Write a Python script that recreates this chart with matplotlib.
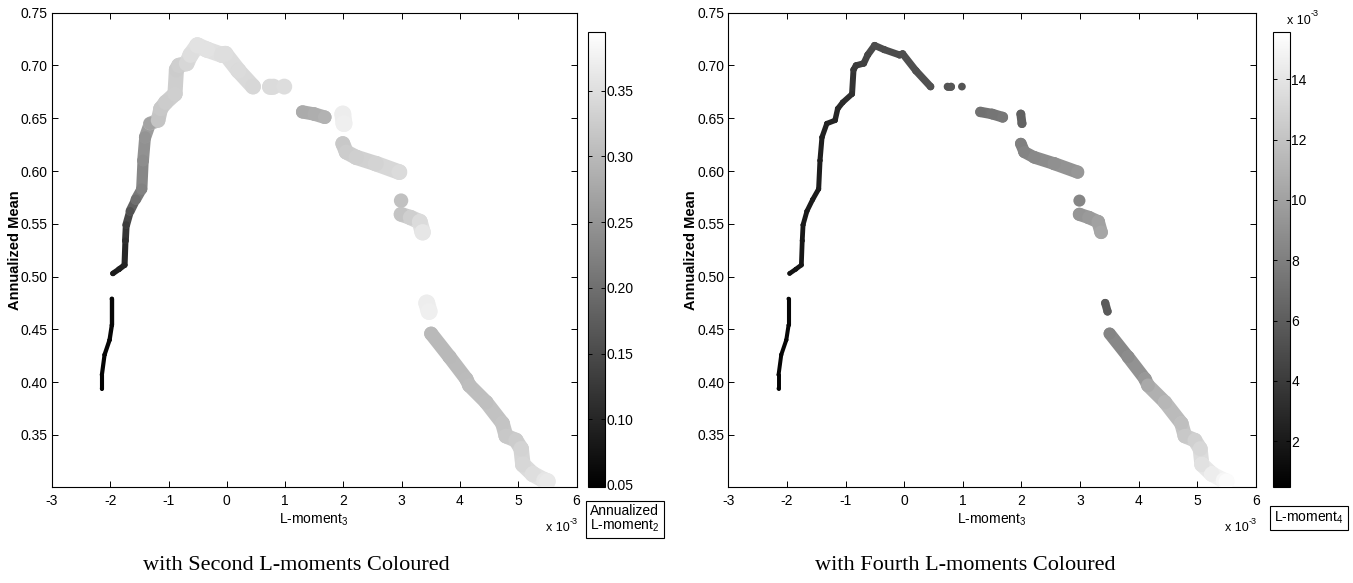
import numpy as np
import matplotlib
matplotlib.use('Agg')
import matplotlib.pyplot as plt
from matplotlib.collections import LineCollection
from matplotlib.colors import Normalize

plt.rcParams['font.family'] = ['Liberation Sans', 'DejaVu Sans']
plt.rcParams['mathtext.fontset'] = 'custom'
plt.rcParams['mathtext.rm'] = 'Liberation Sans'
plt.rcParams['mathtext.it'] = 'Liberation Sans:italic'
plt.rcParams['axes.unicode_minus'] = False

# each point: run id (points of one run form a continuous trace)
run = [0, 0, 0, 0, 0, 0,
       1, 1, 1, 1, 1, 1, 1, 1, 1, 1, 1, 1, 1, 1, 1, 1, 1, 1, 1, 1, 1, 1, 1, 1, 1,
       2, 2, 3, 4, 4, 4, 5, 5,
       6, 6, 6, 6, 6, 7, 8, 8, 8, 8, 9, 9,
       10, 10, 10, 10, 10, 10, 10, 10, 10, 10, 10, 10, 10]
# L-moment 3 (x 10^-3)
lm3 = [-2.144, -2.144, -2.098, -2.012, -1.973, -1.973,
       -1.955, -1.850, -1.755, -1.740, -1.726, -1.660, -1.562, -1.460, -1.437, -1.403,
       -1.320, -1.180, -1.135, -1.050, -0.890, -0.865, -0.823, -0.690, -0.623, -0.505,
       -0.340, -0.080, -0.026, 0.200, 0.450,
       0.74, 0.80, 0.985, 1.30, 1.50, 1.68, 1.99, 2.01,
       1.99, 2.05, 2.22, 2.56, 2.96, 2.99, 2.99, 3.15, 3.31, 3.36, 3.43, 3.47,
       3.506, 3.82, 4.11, 4.16, 4.45, 4.73, 4.79, 4.96, 5.05, 5.08, 5.25, 5.45, 5.50]
ann_mean = [0.394, 0.407, 0.426, 0.440, 0.454, 0.479,
            0.503, 0.507, 0.511, 0.534, 0.549, 0.562, 0.573, 0.583, 0.610, 0.632,
            0.645, 0.648, 0.659, 0.665, 0.673, 0.696, 0.700, 0.702, 0.710, 0.719,
            0.715, 0.710, 0.711, 0.695, 0.680,
            0.680, 0.680, 0.680, 0.656, 0.654, 0.651, 0.654, 0.645,
            0.626, 0.618, 0.613, 0.607, 0.599, 0.572, 0.559, 0.556, 0.552, 0.542, 0.475, 0.467,
            0.446, 0.424, 0.403, 0.397, 0.381, 0.361, 0.349, 0.345, 0.337, 0.322, 0.313, 0.307, 0.306]
# annualized L-moment 2
lm2 = [0.052, 0.053, 0.055, 0.057, 0.058, 0.060,
       0.085, 0.090, 0.095, 0.110, 0.130, 0.160, 0.200, 0.225, 0.240, 0.250,
       0.270, 0.315, 0.320, 0.325, 0.330, 0.325, 0.330, 0.340, 0.350, 0.355,
       0.355, 0.350, 0.350, 0.345, 0.340,
       0.345, 0.345, 0.348, 0.280, 0.285, 0.290, 0.370, 0.372,
       0.320, 0.325, 0.330, 0.335, 0.345, 0.310, 0.315, 0.330, 0.345, 0.360, 0.370, 0.372,
       0.300, 0.300, 0.302, 0.305, 0.308, 0.315, 0.320, 0.325, 0.335, 0.340, 0.350, 0.360, 0.365]
# L-moment 4 (x 10^-3)
lm4 = [0.7, 0.7, 0.8, 0.8, 0.9, 0.9,
       1.6, 1.7, 1.8, 1.9, 2.0, 2.0, 2.1, 2.2, 2.3, 2.4,
       2.6, 2.7, 2.9, 3.0, 3.3, 3.8, 4.0, 4.3, 4.6, 5.0,
       5.0, 5.0, 5.1, 5.2, 5.3,
       5.5, 5.6, 5.5, 7.2, 7.4, 7.6, 6.2, 6.3,
       8.0, 8.3, 8.6, 9.0, 9.4, 8.4, 9.3, 9.6, 10.0, 10.3, 5.8, 5.8,
       8.3, 8.8, 9.5, 10.5, 11.3, 11.8, 12.3, 12.8, 13.2, 13.8, 14.5, 15.0, 15.3]

xticks = [-3, -2, -1, 0, 1, 2, 3, 4, 5, 6]
yticks = [0.35, 0.40, 0.45, 0.50, 0.55, 0.60, 0.65, 0.70, 0.75]
lm2_ticks = [0.05, 0.10, 0.15, 0.20, 0.25, 0.30, 0.35]
lm4_ticks = [2, 4, 6, 8, 10, 12, 14]

W, H = 1353, 583
fig = plt.figure(figsize=(W / 100, H / 100), dpi=100)


def frac(x0, y0, x1, y1):
    # pixel box -> figure rect
    return [x0 / W, 1 - y1 / H, (x1 - x0) / W, (y1 - y0) / H]


def times_ten(px, py):
    fig.text(px / W, 1 - py / H, 'x 10', fontsize=9, va='center', ha='left')
    fig.text((px + 24) / W, 1 - (py - 7) / H, '-3', fontsize=6.5, va='center', ha='left')


def panel(ax_box, cb_box, cval, clim, cticks, cfmt, diam, cb_label, label_xy, title, title_x):
    x = np.array(lm3)
    y = np.array(ann_mean)
    c = np.array(cval)
    ax = fig.add_axes(frac(*ax_box))
    norm = Normalize(*clim)
    cmap = plt.get_cmap('gray')
    d_pt = diam(c) * 72 / 100

    segs, cols, lws = [], [], []
    for i in range(len(x) - 1):
        if run[i] != run[i + 1]:
            continue
        segs.append([(x[i], y[i]), (x[i + 1], y[i + 1])])
        cols.append(cmap(norm((c[i] + c[i + 1]) / 2)))
        lws.append((d_pt[i] + d_pt[i + 1]) / 2)
    ax.add_collection(LineCollection(segs, colors=cols, linewidths=lws,
                                     capstyle='round', joinstyle='round', zorder=2))
    sc = ax.scatter(x, y, s=d_pt ** 2, c=c, cmap=cmap, norm=norm,
                    edgecolors='none', zorder=3)

    ax.set_xlim(-3, 6)
    ax.set_ylim(0.301, 0.75)
    ax.set_xticks(xticks)
    ax.set_yticks(yticks)
    ax.set_yticklabels(['%.2f' % v for v in yticks])
    ax.tick_params(direction='in', top=True, right=True, length=4, width=0.7,
                   labelsize=10)
    ax.tick_params(axis='x', pad=5)
    ax.tick_params(axis='y', pad=3)
    for s in ax.spines.values():
        s.set_linewidth(0.8)
    ax.set_xlabel('L-moment$_3$', fontsize=10, labelpad=3)
    ax.set_ylabel('Annualized Mean', fontsize=10.5, fontweight='bold')
    ax.yaxis.set_label_coords(-0.058, 0.5)

    cax = fig.add_axes(frac(*cb_box))
    cb = fig.colorbar(sc, cax=cax, ticks=cticks)
    cb.ax.set_yticklabels([cfmt % v for v in cticks])
    cb.ax.tick_params(direction='in', left=True, right=True, length=3, width=0.7,
                      labelsize=10, pad=1)
    cb.outline.set_linewidth(0.8)

    times_ten(ax_box[2] - 31, 528)
    fig.text(label_xy[0] / W, 1 - label_xy[1] / H, cb_label, fontsize=10,
             ha='left', va='center', linespacing=1.0,
             bbox=dict(boxstyle='square,pad=0.3', fc='white', ec='black', lw=0.8))
    fig.text(title_x / W, 1 - 565 / H, title, fontsize=16,
             family=['Liberation Serif', 'DejaVu Serif'], ha='center', va='center')
    return cb


panel((52, 12.7, 576.5, 486.7), (588, 31.7, 605, 486.7), lm2,
      (0.0486, 0.395), lm2_ticks, '%.2f', lambda v: 2 + 40 * v,
      'Annualized\nL-moment$_2$', (590, 519), 'with Second L-moments Coloured', 296)

panel((728.4, 12.7, 1255.8, 486.7), (1272.5, 31.7, 1290, 486.7), lm4,
      (0.49, 15.58), lm4_ticks, '%d',
      lambda v: np.interp(v, [0.5, 5.0, 9.0, 15.6], [3.8, 7.0, 13.0, 16.0]),
      'L-moment$_4$', (1274, 518), 'with Fourth L-moments Coloured', 965)

times_ten(1287, 21)

fig.savefig('out.png', dpi=100, facecolor='white')
